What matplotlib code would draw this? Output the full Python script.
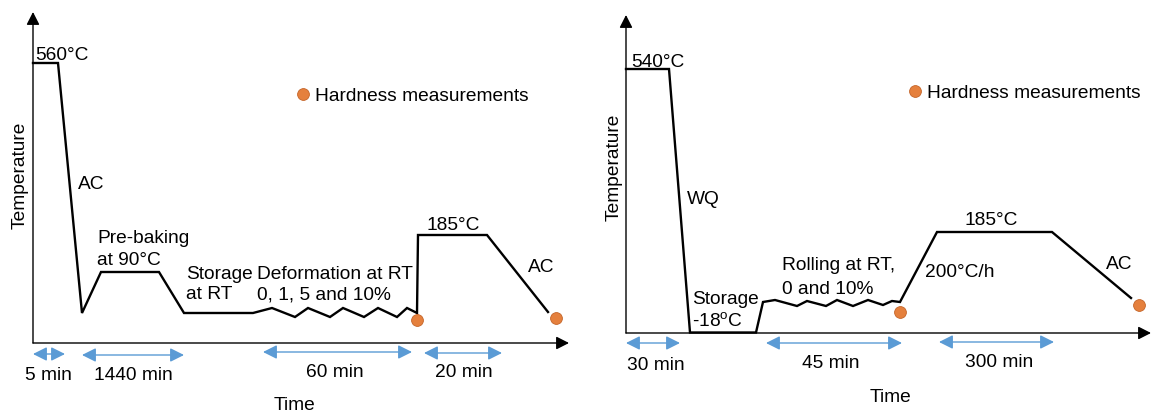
import matplotlib
matplotlib.use('Agg')
import matplotlib.pyplot as plt

plt.rcParams['font.family'] = ['Liberation Sans', 'DejaVu Sans']

# ---------------- data (schematic units) ----------------
# Left panel: thermal profile (time, temperature)
left_time = [0, 25, 49, 68, 126, 151, 220, 239, 262, 275, 297, 310, 331, 345,
             364, 374, 384, 385, 454, 515]
left_temp = [280, 280, 30, 71, 71, 30, 30, 35, 26, 35, 26, 35, 26, 35,
             26, 35, 30, 108, 108, 31]
left_hard_time = [384, 523]
left_hard_temp = [23, 25]
left_labels = [  # text, x, y (centre of cap height), ha
    ("560°C", 2, 290, "left"),
    ("AC", 45, 161, "left"),
    ("Pre-baking", 64, 107, "left"),
    ("at 90°C", 64, 85, "left"),
    ("Storage", 153, 71, "left"),
    ("at RT", 153, 51, "left"),
    ("Deformation at RT", 224, 71, "left"),
    ("0, 1, 5 and 10%", 224, 51, "left"),
    ("185°C", 393, 120, "left"),
    ("AC", 495, 78, "left"),
]
left_durations = [  # start, end, arrow y, label, label x, label y
    (0, 32, -11, "5 min", 15, -30),
    (49, 151, -12, "1440 min", 100, -30),
    (230, 379, -9, "60 min", 302, -27),
    (391, 469, -10, "20 min", 431, -27),
]

# Right panel
right_time = [0, 43, 64, 130, 137, 149, 171, 181, 200, 211, 227, 242, 257, 266,
              274, 311, 426, 505]
right_temp = [264, 264, 0.5, 0.5, 31, 33, 27, 32, 27, 33, 27, 33, 28, 32,
              31, 101, 101, 35]
right_hard_time = [274, 513]
right_hard_temp = [21, 28]
right_labels = [
    ("540°C", 5, 273, "left"),
    ("WQ", 61, 136, "left"),
    ("Storage", 66, 36, "left"),
    ("-18$^{\\mathregular{o}}$C", 66, 13, "left"),
    ("Rolling at RT,", 156, 70, "left"),
    ("0 and 10%", 156, 46, "left"),
    ("200°C/h", 299, 63, "left"),
    ("185°C", 338, 115, "left"),
    ("AC", 480, 71, "left"),
]
right_durations = [
    (0, 54, -10, "30 min", 30, -30),
    (140, 276, -10, "45 min", 205, -28),
    (313, 428, -9, "300 min", 373, -27),
]

legend_text = "Hardness measurements"

# ---------------- styling ----------------
W, H = 1154, 412
FS = 13.8
BLUE = '#5B9BD5'
ORANGE = '#E5803D'
ORANGE_EDGE = '#C46428'
CAP = 7  # half cap height in px (data units == px)

fig = plt.figure(figsize=(W / 100, H / 100), dpi=100)


def make_panel(x0, y0, x1, y1, time, temp, ht, hT, labels, durations,
               leg_xy, time_xy, temp_xy):
    # x0,y0: origin pixel; x1: x arrow tip pixel; y1: y arrow tip pixel
    ax = fig.add_axes([x0 / W, (H - y0) / H, (x1 - x0) / W, (y0 - y1) / H])
    ax.set_xlim(0, x1 - x0)
    ax.set_ylim(0, y0 - y1)
    for s in ax.spines.values():
        s.set_visible(False)
    ax.set_xticks([])
    ax.set_yticks([])
    ax.patch.set_alpha(0)

    head = dict(arrowstyle='-|>,head_length=0.55,head_width=0.28',
                color='black', lw=1.0, mutation_scale=14,
                shrinkA=0, shrinkB=0)
    ax.annotate('', xy=(1, 0), xytext=(0, 0), xycoords='axes fraction',
                arrowprops=head, annotation_clip=False)
    ax.annotate('', xy=(0, 1), xytext=(0, 0), xycoords='axes fraction',
                arrowprops=head, annotation_clip=False)

    ax.plot(time, temp, color='black', lw=1.7, solid_joinstyle='miter',
            clip_on=False, zorder=3)
    ax.plot(ht, hT, 'o', ms=8.5, color=ORANGE, mec=ORANGE_EDGE, mew=0.6,
            clip_on=False, zorder=4)

    for txt, x, y, ha in labels:
        ax.text(x, y - CAP, txt, ha=ha, va='baseline', fontsize=FS)

    for a, b, y, lab, lx, ly in durations:
        ax.annotate('', xy=(b, y), xytext=(a, y),
                    arrowprops=dict(arrowstyle='<|-|>,head_length=0.6,head_width=0.3',
                                    color=BLUE, lw=1.0, mutation_scale=14,
                                    shrinkA=0, shrinkB=0),
                    annotation_clip=False)
        ax.text(lx, ly - CAP, lab, ha='center', va='baseline', fontsize=FS)

    lx, ly = leg_xy
    ax.plot([lx], [ly], 'o', ms=8.5, color=ORANGE, mec=ORANGE_EDGE, mew=0.6,
            clip_on=False)
    ax.text(lx + 12, ly - CAP, legend_text, ha='left', va='baseline', fontsize=FS)

    ax.text(time_xy[0], time_xy[1] - CAP, 'Time', ha='center', va='baseline',
            fontsize=FS)
    ax.text(temp_xy[0], temp_xy[1], 'Temperature', ha='center', va='center',
            rotation=90, fontsize=FS)
    return ax


make_panel(33, 343, 569, 12, left_time, left_temp, left_hard_time, left_hard_temp,
           left_labels, left_durations, (270, 249), (261, -60), (-13, 168))
make_panel(626, 333, 1151, 15, right_time, right_temp, right_hard_time,
           right_hard_temp, right_labels, right_durations, (289, 242), (265, -62),
           (-12, 166))

fig.savefig('out.png', dpi=100)
